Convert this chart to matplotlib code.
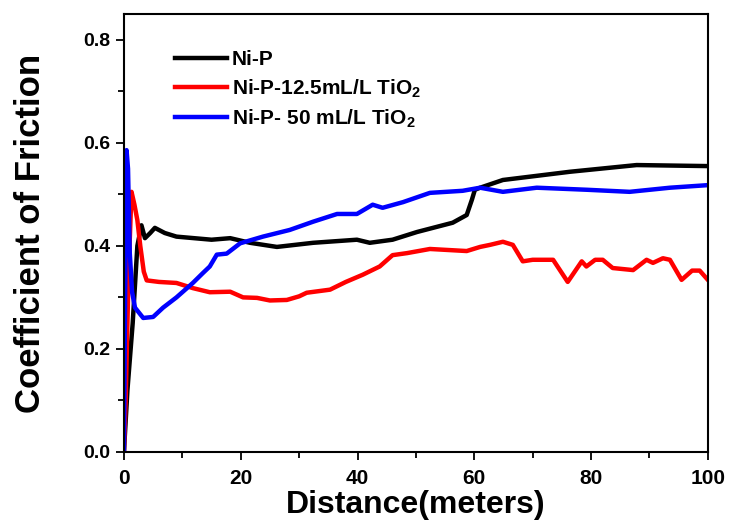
import matplotlib.pyplot as plt
from matplotlib.ticker import MultipleLocator

plt.rcParams['font.family'] = ['Liberation Sans', 'DejaVu Sans']
plt.rcParams['font.weight'] = 'bold'
plt.rcParams['mathtext.fontset'] = 'custom'
plt.rcParams['mathtext.rm'] = 'Liberation Sans:bold'
plt.rcParams['mathtext.bf'] = 'Liberation Sans:bold'

# Ni-P
nip_x = [0, 0.6, 1.5, 2.3, 3.0, 3.6, 4.5, 5.3, 7, 9, 12, 15, 18.2, 21.6, 26.2, 32.4,
         39.9, 42.1, 46, 50.2, 56.3, 58.7, 59.6, 60.1, 61, 64.9, 76.4, 87.8, 100]
nip_y = [0.0, 0.12, 0.25, 0.40, 0.44, 0.415, 0.425, 0.435, 0.425, 0.418, 0.415, 0.412,
         0.415, 0.406, 0.398, 0.406, 0.412, 0.406, 0.412, 0.427, 0.445, 0.46, 0.49,
         0.509, 0.513, 0.528, 0.544, 0.557, 0.555]

# Ni-P-12.5mL/L TiO2
red_x = [0, 0.3, 0.8, 1.3, 1.8, 2.3, 2.8, 3.4, 3.9, 6, 9, 11.8, 14.7, 18.2, 20.4, 22.8,
         25, 27.9, 30, 31.3, 35.3, 38, 40.9, 43.8, 46, 48.5, 52.4, 58.7, 61, 62.7, 64.9,
         66.6, 68.3, 70, 73.5, 76, 78.4, 79.2, 80.7, 82, 83.7, 87.2, 89.5, 90.6, 92.3,
         93.5, 95.5, 97.3, 98.6, 100]
red_y = [0.0, 0.1, 0.35, 0.505, 0.48, 0.45, 0.40, 0.35, 0.333, 0.33, 0.328, 0.318, 0.31,
         0.311, 0.30, 0.299, 0.294, 0.295, 0.302, 0.309, 0.315, 0.33, 0.344, 0.36, 0.382,
         0.386, 0.394, 0.39, 0.398, 0.402, 0.408, 0.402, 0.37, 0.373, 0.373, 0.33, 0.37,
         0.36, 0.373, 0.373, 0.357, 0.353, 0.373, 0.367, 0.376, 0.373, 0.334, 0.352,
         0.352, 0.334]

# Ni-P- 50 mL/L TiO2
blue_x = [0, 0.2, 0.45, 0.7, 1.0, 1.4, 1.9, 3.3, 5, 6.7, 9, 11.8, 13.5, 14.7, 15.9, 17.6,
          19.9, 23.8, 28.4, 32.4, 36.5, 39.9, 42.6, 44.3, 47.8, 52.4, 58, 61, 64.9, 70.7,
          79.3, 86.6, 93.5, 100]
blue_y = [0.0, 0.3, 0.586, 0.55, 0.386, 0.31, 0.28, 0.26, 0.262, 0.28, 0.3, 0.328, 0.347,
          0.36, 0.383, 0.385, 0.405, 0.418, 0.431, 0.447, 0.462, 0.462, 0.48, 0.474,
          0.485, 0.503, 0.507, 0.513, 0.505, 0.513, 0.509, 0.505, 0.513, 0.518]

labels = ['Ni-P', r'Ni-P-12.5mL/L TiO$_\mathbf{2}$', r'Ni-P- 50 mL/L TiO$_\mathbf{2}$']

fig = plt.figure(figsize=(7.29, 5.26), dpi=100)
ax = fig.add_axes([0.170, 0.141, 0.801, 0.832])

ax.plot(nip_x, nip_y, color='black', lw=3.2, label=labels[0])
ax.plot(red_x, red_y, color='#ff0000', lw=3.2, label=labels[1])
ax.plot(blue_x, blue_y, color='#0000ff', lw=3.2, label=labels[2])

ax.set_xlim(0, 100)
ax.set_ylim(0, 0.85)
ax.xaxis.set_major_locator(MultipleLocator(20))
ax.xaxis.set_minor_locator(MultipleLocator(10))
ax.yaxis.set_major_locator(MultipleLocator(0.2))
ax.yaxis.set_minor_locator(MultipleLocator(0.1))
ax.yaxis.set_major_formatter(plt.FormatStrFormatter('%.1f'))

for sp in ax.spines.values():
    sp.set_linewidth(1.5)
ax.tick_params(which='both', direction='out', top=False, right=False, width=1.3)
ax.tick_params(which='major', length=6)
ax.tick_params(which='minor', length=4)
ax.tick_params(axis='y', labelsize=14)
ax.tick_params(axis='x', labelsize=15, pad=6)

ax.set_xlabel('Distance(meters)', fontsize=23, fontweight='bold', labelpad=2)
ax.set_ylabel('Coefficient of Friction', fontsize=25, fontweight='bold', labelpad=26)

ax.legend(loc='upper left', bbox_to_anchor=(0.087, 0.918), frameon=False, fontsize=15,
          handlelength=2.5, handletextpad=0.25, labelspacing=0.38, borderpad=0,
          borderaxespad=0)

fig.savefig('out.png', dpi=100)
